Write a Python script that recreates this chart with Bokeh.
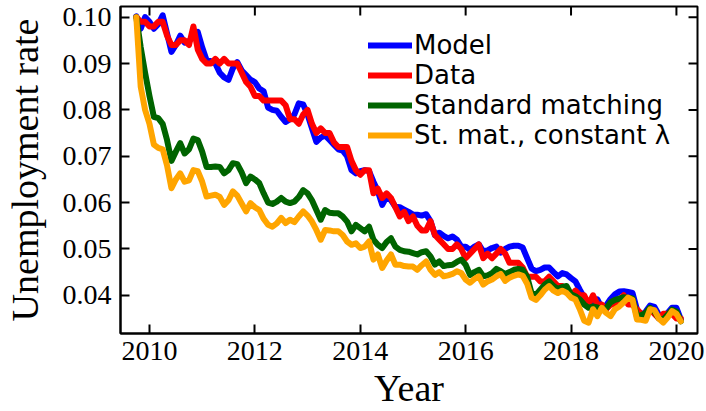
from bokeh.plotting import figure
from bokeh.models import (Range1d, FixedTicker, PrintfTickFormatter,
                          Legend, LegendItem, ColumnDataSource)
from bokeh.embed import file_html
from bokeh.resources import INLINE

# Monthly series, October 2009 through February 2020
start_year = 2009
start_month = 10

model = [
    0.1002, 0.0975, 0.1000,
    0.0990, 0.0975, 0.0985, 0.1004, 0.0965, 0.0925, 0.0940, 0.0960, 0.0945, 0.0948, 0.0960, 0.0968,
    0.0935, 0.0907, 0.0905, 0.0900, 0.0880, 0.0870, 0.0865, 0.0890, 0.0903, 0.0885, 0.0875, 0.0865,
    0.0860, 0.0846, 0.0840, 0.0805, 0.0800, 0.0798, 0.0785, 0.0774, 0.0780, 0.0790, 0.0814, 0.0812,
    0.0790, 0.0760, 0.0731, 0.0740, 0.0745, 0.0735, 0.0725, 0.0715, 0.0712, 0.0700, 0.0670, 0.0663,
    0.0668, 0.0670, 0.0668, 0.0645, 0.0625, 0.0595, 0.0613, 0.0605, 0.0591, 0.0590, 0.0585, 0.0580,
    0.0574, 0.0574, 0.0572, 0.0575, 0.0560, 0.0530, 0.0535, 0.0528, 0.0523, 0.0527, 0.0520, 0.0505,
    0.0505, 0.0498, 0.0505, 0.0510, 0.0495, 0.0497, 0.0502, 0.0505, 0.0492, 0.0500, 0.0505, 0.0507,
    0.0507, 0.0503, 0.0480, 0.0458, 0.0452, 0.0455, 0.0460, 0.0460, 0.0450, 0.0441, 0.0448, 0.0445,
    0.0437, 0.0430, 0.0412, 0.0395, 0.0376, 0.0385, 0.0391, 0.0373, 0.0378, 0.0392, 0.0402, 0.0408,
    0.0409, 0.0407, 0.0405, 0.0370, 0.0355, 0.0365, 0.0378, 0.0375, 0.0358, 0.0355, 0.0362, 0.0373,
    0.0373, 0.0348,
]

data = [
    0.100, 0.099, 0.099,
    0.098, 0.098, 0.099, 0.099, 0.096, 0.094, 0.094, 0.095, 0.095, 0.094, 0.098, 0.093,
    0.091, 0.090, 0.090, 0.091, 0.090, 0.091, 0.090, 0.090, 0.090, 0.088, 0.086, 0.085,
    0.083, 0.083, 0.082, 0.082, 0.082, 0.082, 0.082, 0.081, 0.078, 0.078, 0.077, 0.079,
    0.080, 0.077, 0.075, 0.076, 0.075, 0.075, 0.073, 0.072, 0.072, 0.072, 0.069, 0.067,
    0.066, 0.067, 0.067, 0.062, 0.063, 0.061, 0.062, 0.061, 0.059, 0.057, 0.058, 0.056,
    0.057, 0.055, 0.054, 0.054, 0.056, 0.053, 0.052, 0.051, 0.050, 0.050, 0.051, 0.050,
    0.048, 0.049, 0.050, 0.051, 0.048, 0.049, 0.048, 0.049, 0.050, 0.049, 0.047, 0.047,
    0.047, 0.046, 0.044, 0.044, 0.044, 0.043, 0.043, 0.044, 0.043, 0.042, 0.042, 0.041,
    0.040, 0.041, 0.040, 0.040, 0.038, 0.040, 0.038, 0.038, 0.037, 0.038, 0.038, 0.039,
    0.040, 0.038, 0.038, 0.037, 0.036, 0.036, 0.037, 0.036, 0.035, 0.036, 0.036, 0.036,
    0.035, 0.035,
]

standard_matching = [
    0.1000, 0.0935, 0.0880,
    0.0830, 0.0785, 0.0782, 0.0770, 0.0735, 0.0690, 0.0710, 0.0728, 0.0706, 0.0715, 0.0738, 0.0735,
    0.0710, 0.0677, 0.0677, 0.0678, 0.0677, 0.0663, 0.0670, 0.0685, 0.0683, 0.0665, 0.0642, 0.0656,
    0.0650, 0.0642, 0.0620, 0.0600, 0.0597, 0.0602, 0.0610, 0.0602, 0.0599, 0.0602, 0.0612, 0.0627,
    0.0620, 0.0605, 0.0584, 0.0563, 0.0584, 0.0578, 0.0577, 0.0577, 0.0570, 0.0559, 0.0538, 0.0552,
    0.0545, 0.0538, 0.0548, 0.0520, 0.0509, 0.0502, 0.0515, 0.0523, 0.0505, 0.0498, 0.0495, 0.0494,
    0.0491, 0.0488, 0.0493, 0.0495, 0.0484, 0.0466, 0.0473, 0.0463, 0.0465, 0.0466, 0.0472, 0.0477,
    0.0466, 0.0444, 0.0450, 0.0455, 0.0441, 0.0443, 0.0448, 0.0457, 0.0452, 0.0446, 0.0450, 0.0455,
    0.0457, 0.0455, 0.0440, 0.0405, 0.0401, 0.0412, 0.0423, 0.0430, 0.0420, 0.0413, 0.0418, 0.0420,
    0.0402, 0.0398, 0.0391, 0.0380, 0.0373, 0.0376, 0.0374, 0.0369, 0.0372, 0.0385, 0.0390, 0.0393,
    0.0396, 0.0395, 0.0393, 0.0355, 0.0357, 0.0362, 0.0373, 0.0365, 0.0350, 0.0348, 0.0358, 0.0369,
    0.0365, 0.0344,
]

constant_lambda = [
    0.1000, 0.0850, 0.0800,
    0.0770, 0.0725, 0.0718, 0.0715, 0.0680, 0.0631, 0.0650, 0.0663, 0.0645, 0.0648, 0.0670, 0.0668,
    0.0645, 0.0613, 0.0615, 0.0617, 0.0612, 0.0595, 0.0605, 0.0624, 0.0615, 0.0598, 0.0581, 0.0599,
    0.0590, 0.0584, 0.0565, 0.0552, 0.0548, 0.0555, 0.0567, 0.0556, 0.0563, 0.0558, 0.0570, 0.0581,
    0.0572, 0.0559, 0.0541, 0.0520, 0.0541, 0.0540, 0.0538, 0.0538, 0.0530, 0.0516, 0.0509, 0.0512,
    0.0502, 0.0505, 0.0516, 0.0477, 0.0488, 0.0459, 0.0475, 0.0488, 0.0466, 0.0466, 0.0463, 0.0462,
    0.0462, 0.0455, 0.0465, 0.0473, 0.0455, 0.0444, 0.0450, 0.0441, 0.0443, 0.0446, 0.0452, 0.0448,
    0.0434, 0.0427, 0.0435, 0.0441, 0.0423, 0.0430, 0.0434, 0.0441, 0.0446, 0.0431, 0.0438, 0.0442,
    0.0445, 0.0442, 0.0425, 0.0395, 0.0390, 0.0400, 0.0412, 0.0420, 0.0410, 0.0405, 0.0410, 0.0405,
    0.0395, 0.0391, 0.0370, 0.0345, 0.0341, 0.0370, 0.0355, 0.0373, 0.0362, 0.0355, 0.0370, 0.0376,
    0.0385, 0.0395, 0.0390, 0.0348, 0.0347, 0.0345, 0.0370, 0.0368, 0.0350, 0.0341, 0.0352, 0.0366,
    0.0360, 0.0344,
]

series_labels = ["Model", "Data", "Standard matching", "St. mat., constant \u03bb"]
series_colors = ["#0000ff", "#ff0000", "#006400", "#ffa500"]
x_ticks = [2010, 2012, 2014, 2016, 2018, 2020]
y_ticks = [0.04, 0.05, 0.06, 0.07, 0.08, 0.09, 0.10]

# decimal year of each monthly observation
years = [start_year + (start_month - 1 + i) / 12.0 for i in range(len(data))]

X0, X1 = 2009.45, 2020.40
Y0, Y1 = 0.03176, 0.1023
W, H = 706, 411
BL, BR, BT, BB = 117, 9, 6, 77
TICK = 9  # inward tick length in pixels

p = figure(width=W, height=H, output_backend="svg", toolbar_location=None,
           x_range=Range1d(X0, X1), y_range=Range1d(Y0, Y1),
           min_border_left=BL, min_border_right=BR, min_border_top=BT, min_border_bottom=BB,
           x_axis_label="Year", y_axis_label="Unemployment rate")
p.background_fill_color = "white"
p.border_fill_color = "white"
p.grid.visible = False
p.outline_line_color = "black"
p.outline_line_width = 2

serif = "Liberation Serif"
for ax, ticks in ((p.xaxis[0], x_ticks), (p.yaxis[0], y_ticks)):
    ax.ticker = FixedTicker(ticks=ticks)
    ax.major_tick_in = TICK
    ax.major_tick_out = 0
    ax.major_tick_line_width = 2
    ax.major_tick_line_color = "black"
    ax.minor_tick_line_color = None
    ax.axis_line_width = 2
    ax.axis_line_color = "black"
    ax.major_label_text_font = serif
    ax.major_label_text_font_size = "28px"
    ax.major_label_text_color = "black"
    ax.axis_label_text_font = serif
    ax.axis_label_text_font_size = "38px"
    ax.axis_label_text_font_style = "normal"
    ax.axis_label_text_color = "black"
p.xaxis[0].major_label_standoff = 8
p.xaxis[0].axis_label_standoff = 4
p.yaxis[0].major_label_standoff = 9
p.yaxis[0].axis_label_standoff = 14
p.yaxis[0].formatter = PrintfTickFormatter(format="%.2f")

# inward ticks mirrored on the top and right edges of the frame
dx = TICK * (X1 - X0) / (W - BL - BR)
dy = TICK * (Y1 - Y0) / (H - BT - BB)
p.segment(x0=x_ticks, x1=x_ticks, y0=[Y1] * len(x_ticks), y1=[Y1 - dy] * len(x_ticks),
          line_color="black", line_width=2)
p.segment(x0=[X1] * len(y_ticks), x1=[X1 - dx] * len(y_ticks), y0=y_ticks, y1=y_ticks,
          line_color="black", line_width=2)

items = []
for label, values, color in zip(series_labels,
                                [model, data, standard_matching, constant_lambda],
                                series_colors):
    src = ColumnDataSource(dict(x=years, y=values))
    r = p.line("x", "y", source=src, line_color=color, line_width=6,
               line_join="round", line_cap="round")
    items.append(LegendItem(label=label, renderers=[r]))

legend = Legend(items=items, location=(248, 183))
legend.label_text_font = "DejaVu Sans"
legend.label_text_font_size = "26px"
legend.label_text_color = "black"
legend.glyph_width = 44
legend.glyph_height = 20
legend.label_standoff = 2
legend.spacing = -3
legend.padding = 0
legend.margin = 0
legend.background_fill_alpha = 0
legend.border_line_color = None
p.add_layout(legend, "center")

open("out.html", "w").write(file_html(p, INLINE))
